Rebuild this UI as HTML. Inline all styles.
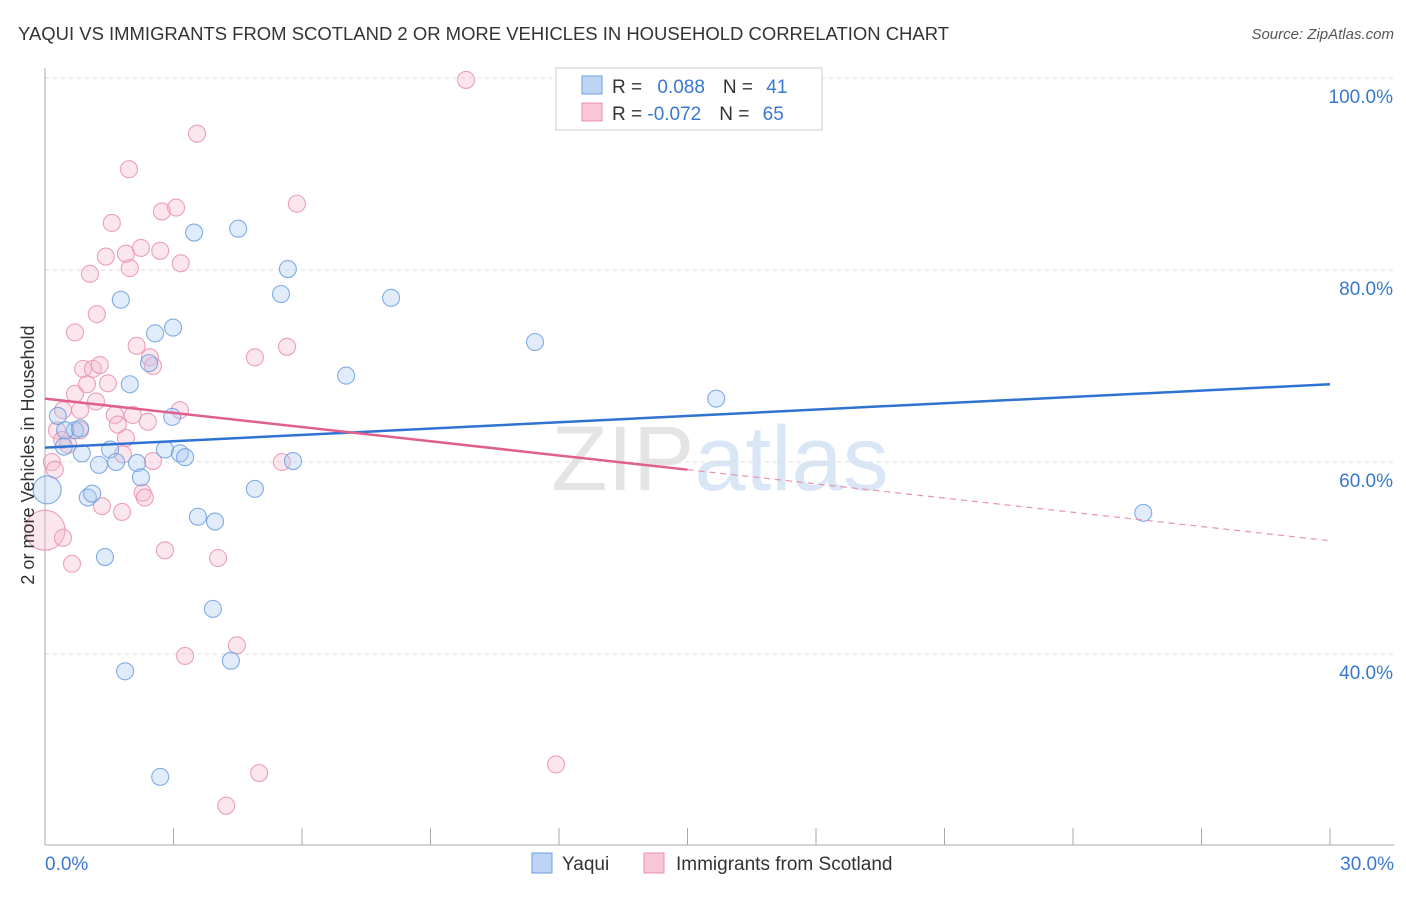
<!DOCTYPE html>
<html><head><meta charset="utf-8"><style>
body{margin:0;background:#fff;font-family:"Liberation Sans",sans-serif}
svg text{font-family:"Liberation Sans",sans-serif}
</style></head><body>
<svg id="chart" width="1406" height="892" xmlns="http://www.w3.org/2000/svg">
<text x="18" y="40" font-size="18" fill="#333" textLength="931" lengthAdjust="spacingAndGlyphs">YAQUI VS IMMIGRANTS FROM SCOTLAND 2 OR MORE VEHICLES IN HOUSEHOLD CORRELATION CHART</text>
<text x="1394" y="39" font-size="15" fill="#555" font-style="italic" text-anchor="end">Source: ZipAtlas.com</text>
<text x="720" y="490" font-size="92" fill="#e4e4e4" text-anchor="middle" font-family="Liberation Serif">ZIP<tspan fill="#d8e6f6" font-family="Liberation Sans">atlas</tspan></text>
<g id="grid"></g>
<g id="axes"></g>
<g id="points"></g>
<g id="trends"></g>
<text x="34" y="455" font-size="18" fill="#333" text-anchor="middle" transform="rotate(-90 34 455)">2 or more Vehicles in Household</text>
<g>
<rect x="556" y="68" width="266" height="62" fill="#fff" stroke="#ccc"/>
<rect x="582" y="76" width="20" height="18" fill="#bcd5f5" stroke="#6b9de0"/>
<rect x="582" y="103" width="20" height="18" fill="#f9c6d5" stroke="#e891b0"/>
<text x="612" y="93" font-size="19" fill="#333">R = <tspan fill="#3a78d0" dx="10">0.088</tspan><tspan dx="18" fill="#333">N = </tspan><tspan fill="#3a78d0" dx="8">41</tspan></text>
<text x="612" y="120" font-size="19" fill="#333">R = <tspan fill="#3a78d0">-0.072</tspan><tspan dx="18" fill="#333">N = </tspan><tspan fill="#3a78d0" dx="8">65</tspan></text>
</g>
<g>
<rect x="532" y="853" width="20" height="20" fill="#bcd5f5" stroke="#6b9de0"/>
<text x="562" y="870" font-size="19" fill="#333">Yaqui</text>
<rect x="644" y="853" width="20" height="20" fill="#f9c6d5" stroke="#e891b0"/>
<text x="676" y="870" font-size="19" fill="#333">Immigrants from Scotland</text>
</g>
</svg>
<script>
const xTicks=[0,3,6,9,12,15,18,21,24,27,30];
const yTicks=[40,60,80,100];
const yTickLabels=["40.0%","60.0%","80.0%","100.0%"];
const blueX=[0.05,0.30,0.44,0.70,0.86,1.0,1.1,1.26,1.4,1.52,1.66,1.77,1.87,1.98,2.15,2.24,2.57,2.43,2.69,2.80,2.97,2.99,3.15,3.27,3.48,3.57,3.92,3.97,4.34,4.51,4.90,5.51,5.67,5.79,7.03,8.08,11.44,15.67,25.64,0.47,0.82];
const blueY=[57.1,64.8,61.6,63.3,60.9,56.3,56.7,59.7,50.1,61.3,60.0,76.9,38.2,68.1,59.9,58.4,73.4,70.3,27.2,61.3,64.7,74.0,60.9,60.5,83.9,54.3,44.7,53.8,39.3,84.3,57.2,77.5,80.1,60.1,69.0,77.1,72.5,66.6,54.7,63.3,63.5];
const pinkX=[0,0.16,0.23,0.28,0.42,0.4,0.54,0.63,0.42,0.70,0.70,0.82,0.89,0.98,1.05,1.12,1.19,1.21,1.28,1.33,1.42,1.47,1.56,1.63,1.70,1.80,1.82,1.89,1.89,1.98,1.96,2.05,2.14,2.24,2.28,2.33,2.40,2.45,2.52,2.52,2.69,2.73,2.80,3.06,3.15,3.17,3.27,3.55,4.04,4.48,4.90,5.0,4.23,5.53,5.65,5.88,9.83,11.93,0.82];
const pinkY=[52.9,60.0,59.2,63.3,65.4,62.3,61.8,49.4,52.1,73.5,67.1,63.3,69.7,68.1,79.6,69.7,66.3,75.4,70.1,55.4,81.4,68.2,84.9,64.9,63.9,54.8,60.8,81.7,62.5,80.2,90.5,64.9,72.1,82.3,56.8,56.3,64.2,70.9,70.0,60.1,82.0,86.1,50.8,86.5,65.4,80.7,39.8,94.2,50.0,40.9,70.9,27.6,24.2,60.0,72.0,86.9,99.8,28.5,65.4];
const blueTrend=[61.5,68.1];
const pinkTrend=[66.6,51.8];
const pinkSolidEnd=15;
const X=v=>45+v/30*1285, Y=v=>78+(100-v)*9.6;
const NS="http://www.w3.org/2000/svg";
function mk(p,t,a){const e=document.createElementNS(NS,t);for(const k in a)e.setAttribute(k,a[k]);p.appendChild(e);return e;}
const grid=document.getElementById('grid'),axes=document.getElementById('axes'),pts=document.getElementById('points'),tr=document.getElementById('trends');
yTicks.forEach((t,i)=>{const l=mk(grid,'line',{x1:45,x2:1394,y1:Y(t),y2:Y(t),stroke:'#ddd','stroke-dasharray':'4 4'});


const tx=mk(axes,'text',{x:1393,y:Y(t)+25,'font-size':19,fill:'#3a78d0','text-anchor':'end'});tx.textContent=yTickLabels[i];

});
mk(axes,'line',{x1:45,x2:45,y1:68,y2:845,stroke:'#aaa'});
mk(axes,'line',{x1:45,x2:1394,y1:845,y2:845,stroke:'#aaa'});
xTicks.forEach(t=>{const l=mk(axes,'line',{x1:X(t),x2:X(t),y1:828,y2:845,stroke:'#aaa'});

});
const x0=mk(axes,'text',{x:45,y:870,'font-size':19,fill:'#3a78d0'});x0.textContent='0.0%';


const x1=mk(axes,'text',{x:1394,y:870,'font-size':19,fill:'#3a78d0','text-anchor':'end'});x1.textContent='30.0%';


function dots(xs,ys,fill,stroke,name){xs.forEach((x,i)=>{const r=(i===0)?(name==='yaqui'?14:20):8.5;
const c=mk(pts,'circle',{cx:X(x),cy:Y(ys[i]),r:r,fill:fill,'fill-opacity':0.35,stroke:stroke,'stroke-width':1.1,'stroke-opacity':0.85});

});}
dots(pinkX,pinkY,'#f5b8cb','#e891b0','scotland');
dots(blueX,blueY,'#a8c8f0','#6b9de0','yaqui');
const bl=mk(tr,'line',{x1:X(0),y1:Y(blueTrend[0]),x2:X(30),y2:Y(blueTrend[1]),stroke:'#2f72d0','stroke-width':2.5});


const pm=pinkTrend[0]+(pinkTrend[1]-pinkTrend[0])*pinkSolidEnd/30;
const pl=mk(tr,'line',{x1:X(0),y1:Y(pinkTrend[0]),x2:X(pinkSolidEnd),y2:Y(pm),stroke:'#e0608c','stroke-width':2.5});


const pd=mk(tr,'line',{x1:X(pinkSolidEnd),y1:Y(pm),x2:X(30),y2:Y(pinkTrend[1]),stroke:'#e891b0','stroke-width':1.2,'stroke-dasharray':'6 5'});


</script>
</body></html>
